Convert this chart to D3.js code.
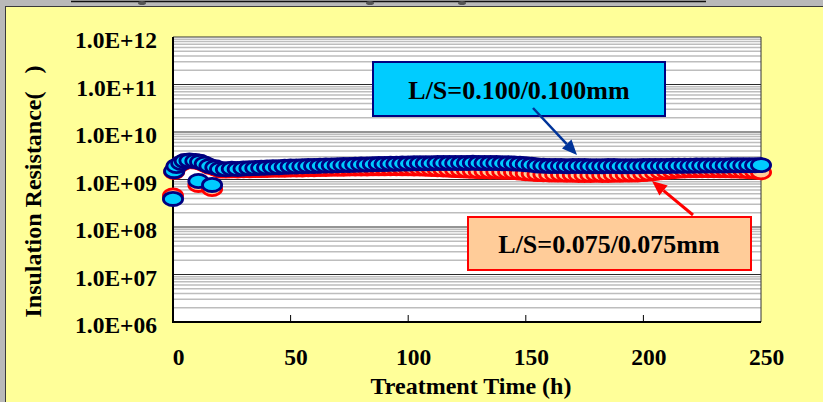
<!DOCTYPE html>
<html lang="en">
<head>
<meta charset="UTF-8">
<title>Insulation Resistance vs Treatment Time</title>
<script src="https://d3js.org/d3.v7.min.js"></script>
<style>
  body { margin: 0; background: #b9b9b9; overflow: hidden; }
  svg { display: block; }
  text { font-family: "Liberation Serif", "Times New Roman", serif; font-weight: bold; fill: #000; }
</style>
</head>
<body>
<svg id="chart"></svg>
<script>
const width = 823;
const height = 402;
const plot = {left: 173, right: 761, top: 37, bottom: 322};

// treatment time (h)
const hours = [0, 0.5, 1.5, 3.5, 5, 7, 9.5, 10.8, 11.5, 13.5, 15.5, 16.6, 18,
  20, 22.5, 25, 27.5, 30, 32.5, 35, 37.5, 40, 42.5, 45, 47.5, 50, 52.5, 55, 57.5, 60, 62.5, 65, 67.5, 70, 72.5, 75,
  77.5, 80, 82.5, 85, 87.5, 90, 92.5, 95, 97.5, 100, 102.5, 105, 107.5, 110, 112.5, 115, 117.5, 120, 122.5, 125,
  127.5, 130, 132.5, 135, 137.5, 140, 142.5, 145, 147.5, 150, 152.5, 155, 157.5, 160, 162.5, 165, 167.5, 170,
  172.5, 175, 177.5, 180, 182.5, 185, 187.5, 190, 192.5, 195, 197.5, 200, 202.5, 205, 207.5, 210, 212.5, 215,
  217.5, 220, 222.5, 225, 227.5, 230, 232.5, 235, 237.5, 240, 242.5, 245, 247.5, 250];

// insulation resistance, in units of 1.0E+09 ohm
const ls100 = [0.39, 1.5, 1.92, 2.23, 2.45, 2.5, 2.45, 0.93, 2.35, 2.15, 1.92, 0.77, 1.8,
  1.66, 1.64, 1.68, 1.66, 1.70, 1.72, 1.74, 1.76, 1.78, 1.80, 1.82, 1.85, 1.87,
  1.88, 1.90, 1.92, 1.93, 1.95, 1.97, 1.98, 2.00, 2.02, 2.03,
  2.05, 2.06, 2.08, 2.10, 2.11, 2.12, 2.14, 2.15, 2.16, 2.18, 2.19, 2.20, 2.20, 2.21, 2.22, 2.22,
  2.23, 2.23, 2.22, 2.23, 2.24, 2.23, 2.22, 2.23, 2.22, 2.21, 2.20, 2.18, 2.15, 2.10, 2.05,
  1.98, 1.95, 1.93, 1.92, 1.92, 1.91, 1.92, 1.93, 1.92, 1.91, 1.90, 1.91, 1.92, 1.92, 1.91, 1.90, 1.90, 1.91, 1.92,
  1.93, 1.92, 1.92, 1.93, 1.94, 1.94, 1.95, 1.95, 1.96, 1.96, 1.97, 1.97, 1.98, 1.98, 1.99, 1.99, 2.00, 2.00, 2.00, 2.01];
const ls075 = [0.46, 1.45, 1.86, 2.16, 2.38, 2.42, 2.38, 0.77, 2.28, 2.08, 1.86, 0.63, 1.72,
  1.55, 1.54, 1.56, 1.55, 1.57, 1.57, 1.58, 1.58, 1.59, 1.60, 1.60, 1.61, 1.62,
  1.62, 1.63, 1.64, 1.65, 1.66, 1.67, 1.68, 1.68, 1.69, 1.70,
  1.70, 1.71, 1.71, 1.72, 1.72, 1.72, 1.73, 1.73, 1.72, 1.72, 1.71, 1.70, 1.68, 1.66, 1.64, 1.62,
  1.60, 1.58, 1.56, 1.54, 1.52, 1.50, 1.49, 1.48, 1.47, 1.46, 1.45, 1.43, 1.40, 1.36, 1.33,
  1.30, 1.29, 1.28, 1.27, 1.27, 1.26, 1.26, 1.25, 1.25, 1.25, 1.26, 1.25, 1.25, 1.26, 1.26, 1.27, 1.27, 1.28, 1.30,
  1.33, 1.37, 1.42, 1.46, 1.50, 1.53, 1.55, 1.56, 1.56, 1.57, 1.57, 1.57, 1.56, 1.56, 1.55, 1.54, 1.52, 1.50, 1.47, 1.42];
const unit = 1e9;

const xTicks = [0, 50, 100, 150, 200, 250];
const yTicks = [1e6, 1e7, 1e8, 1e9, 1e10, 1e11, 1e12];
const seriesNames = ["L/S=0.100/0.100mm", "L/S=0.075/0.075mm"];

const svg = d3.select("#chart").attr("width", width).attr("height", height);

// cut-off title strip at the top
svg.append("line").attr("x1", 71).attr("x2", 706).attr("y1", 1.5).attr("y2", 1.5)
  .attr("stroke", "#111").attr("stroke-width", 1.5);
[142, 370, 462].forEach(cx => {
  svg.append("ellipse").attr("cx", cx).attr("cy", 3).attr("rx", 4).attr("ry", 2).attr("fill", "#555");
});

// chart panel
svg.append("rect").attr("x", 5.5).attr("y", 6.5).attr("width", 840).attr("height", 420)
  .attr("fill", "#ffff99").attr("stroke", "#3a3a3a").attr("stroke-width", 1);

const x = d3.scaleLinear().domain([0, 250]).range([plot.left, plot.right]);
const y = d3.scaleLog().domain([1e6, 1e12]).range([plot.bottom, plot.top]);

svg.append("rect").attr("x", plot.left).attr("y", plot.top)
  .attr("width", plot.right - plot.left).attr("height", plot.bottom - plot.top)
  .attr("fill", "#fff");

const isMajor = v => Math.abs(Math.log10(v) - Math.round(Math.log10(v))) < 1e-9;
const minor = y.ticks().filter(v => !isMajor(v));

svg.append("g").selectAll("line").data(minor).join("line")
  .attr("x1", plot.left).attr("x2", plot.right)
  .attr("y1", d => y(d)).attr("y2", d => y(d))
  .attr("stroke", "#bdbdbd").attr("stroke-width", 1.5);

svg.append("g").selectAll("line").data(yTicks.slice(1, -1)).join("line")
  .attr("x1", plot.left).attr("x2", plot.right)
  .attr("y1", d => y(d)).attr("y2", d => y(d))
  .attr("stroke", "#2a2a2a").attr("stroke-width", 1);

// frame: top/right thin, left/bottom axis lines
svg.append("path")
  .attr("d", `M${plot.left},${plot.top}H${plot.right}V${plot.bottom}`)
  .attr("fill", "none").attr("stroke", "#333").attr("stroke-width", 1);
svg.append("path")
  .attr("d", `M${plot.left},${plot.top}V${plot.bottom}H${plot.right}`)
  .attr("fill", "none").attr("stroke", "#000").attr("stroke-width", 2);

// x ticks point into the plot
svg.append("g").selectAll("line").data(xTicks.slice(1, -1)).join("line")
  .attr("x1", d => x(d)).attr("x2", d => x(d))
  .attr("y1", plot.bottom).attr("y2", plot.bottom - 7)
  .attr("stroke", "#000").attr("stroke-width", 1);

svg.append("g").selectAll("text").data(xTicks).join("text")
  .attr("x", d => x(d) + 5.5).attr("y", 365)
  .attr("text-anchor", "middle").style("font-size", "23.5px")
  .text(d => d);

svg.append("g").selectAll("text").data(yTicks).join("text")
  .attr("x", 157).attr("y", d => y(d) + 11)
  .attr("text-anchor", "end").style("font-size", "23.5px")
  .text(d => "1.0E+" + String(Math.round(Math.log10(d))).padStart(2, "0"));

svg.append("text").attr("x", 471).attr("y", 394)
  .attr("text-anchor", "middle").style("font-size", "24px")
  .text("Treatment Time (h)");

svg.append("text")
  .attr("transform", "translate(41,191.5) rotate(-90)")
  .attr("text-anchor", "middle").style("font-size", "24px")
  .text("Insulation Resistance(\u00a0\u00a0\u00a0)");

// series: L/S=0.075 behind, L/S=0.100 in front
const pts075 = hours.map((h, i) => ({h, v: ls075[i] * unit}));
const pts100 = hours.map((h, i) => ({h, v: ls100[i] * unit}));

svg.append("g").selectAll("ellipse").data(pts075).join("ellipse")
  .attr("cx", d => x(d.h)).attr("cy", d => y(d.v))
  .attr("rx", 9.6).attr("ry", 6.6)
  .attr("fill", "#ffcc99").attr("stroke", "#ff0000").attr("stroke-width", 2.8);

svg.append("g").selectAll("ellipse").data(pts100).join("ellipse")
  .attr("cx", d => x(d.h)).attr("cy", d => y(d.v))
  .attr("rx", 9.6).attr("ry", 6.6)
  .attr("fill", "#00ccff").attr("stroke", "#000080").attr("stroke-width", 2.8);

// callouts
function arrow(x1, y1, x2, y2, color, w) {
  const a = Math.atan2(y2 - y1, x2 - x1);
  const len = 15, half = 6.5;
  const bx = x2 - len * Math.cos(a), by = y2 - len * Math.sin(a);
  svg.append("line").attr("x1", x1).attr("y1", y1).attr("x2", bx).attr("y2", by)
    .attr("stroke", color).attr("stroke-width", w);
  const p = [[x2, y2],
    [bx + half * Math.sin(a), by - half * Math.cos(a)],
    [bx - half * Math.sin(a), by + half * Math.cos(a)]];
  svg.append("path").attr("d", "M" + p.join("L") + "Z").attr("fill", color);
}

svg.append("rect").attr("x", 373).attr("y", 62).attr("width", 292).attr("height", 54)
  .attr("fill", "#00ccff").attr("stroke", "#000080").attr("stroke-width", 2);
svg.append("text").attr("x", 519).attr("y", 99).attr("text-anchor", "middle")
  .style("font-size", "26px").text(seriesNames[0]);
arrow(533, 108, 577, 155, "#003399", 2.5);

svg.append("rect").attr("x", 468).attr("y", 217).attr("width", 283).attr("height", 53)
  .attr("fill", "#ffcc99").attr("stroke", "#ff0000").attr("stroke-width", 2);
svg.append("text").attr("x", 609).attr("y", 253).attr("text-anchor", "middle")
  .style("font-size", "26px").text(seriesNames[1]);
arrow(693, 215, 652, 181, "#ff0000", 3);
</script>
</body>
</html>
